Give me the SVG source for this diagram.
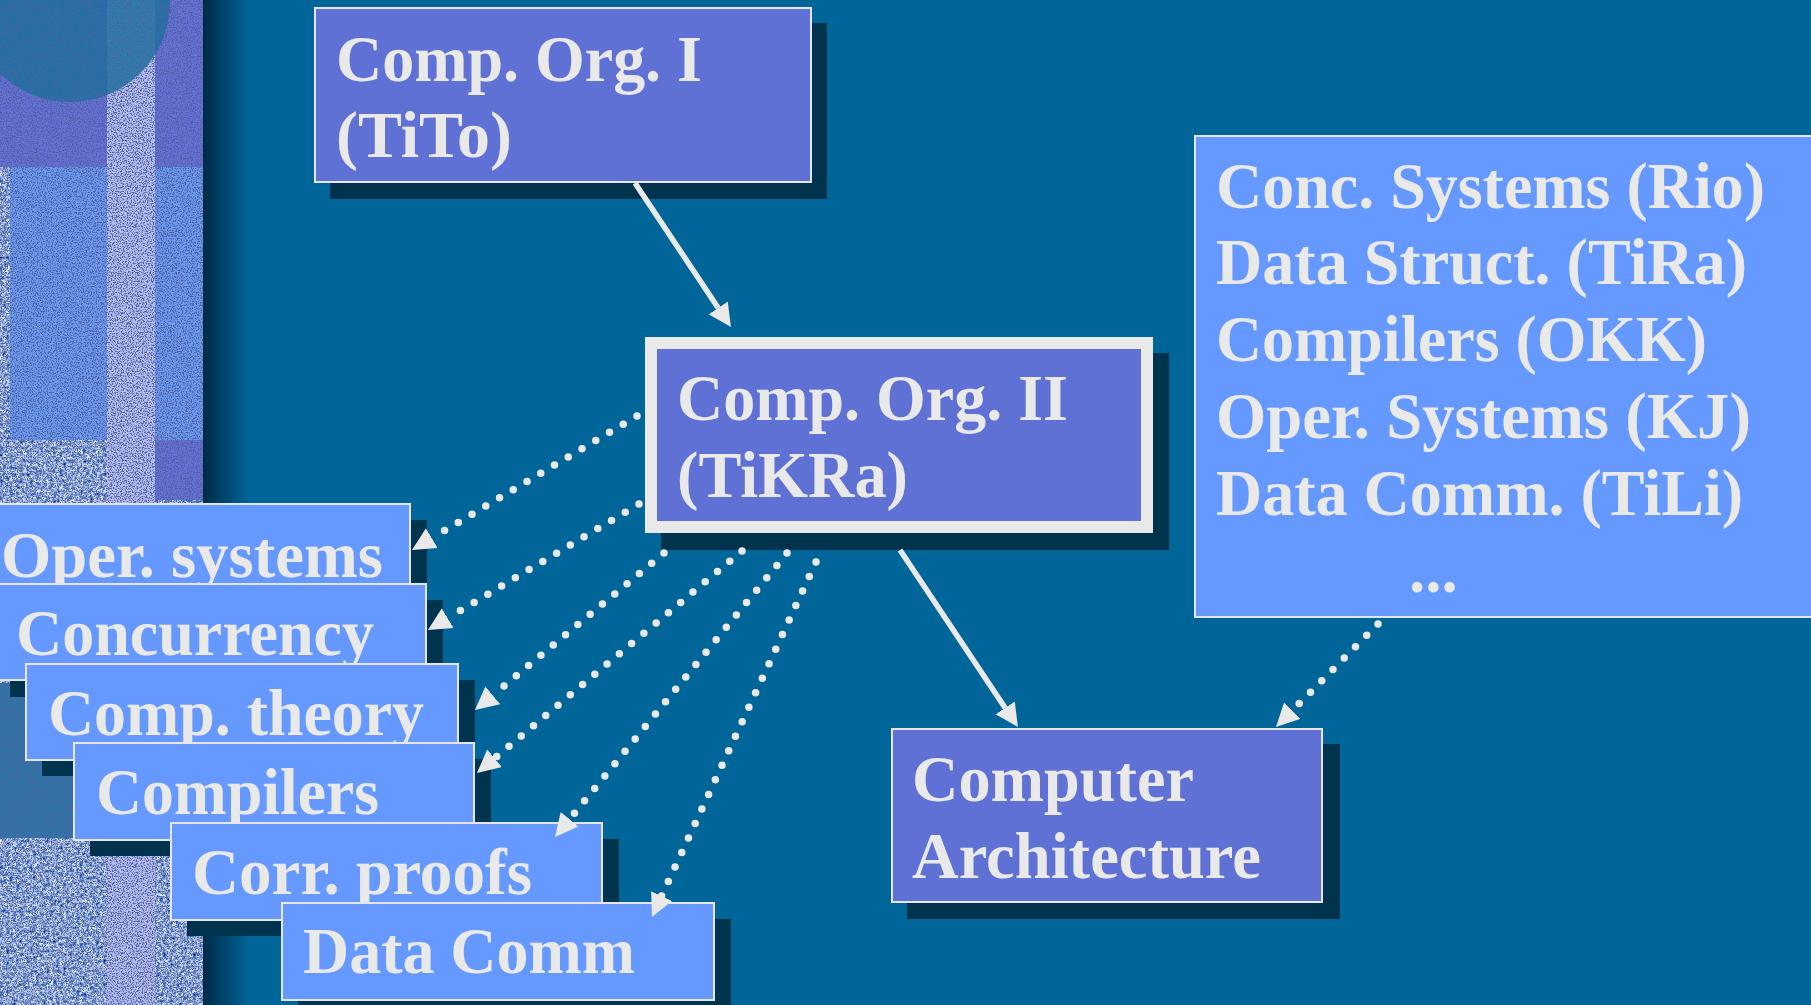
<svg xmlns="http://www.w3.org/2000/svg" width="1811" height="1005" viewBox="0 0 1811 1005">
<defs>
<style>
.shadow{fill:#00334d}
.nodeA{fill:#6071d5;stroke:#e6e6ee;stroke-width:2}
.nodeB{fill:#6699ff;stroke:#e6e6e6;stroke-width:2}
.lbl{font-family:'Liberation Serif','Times New Roman',serif;font-weight:bold;font-size:65px;fill:#e9e9e9}
.dot{fill:none;stroke:#e9e9e9;stroke-width:7.5;stroke-linecap:round;stroke-dasharray:0 16}
.solid{fill:none;stroke:#e9e9e9;stroke-width:5.5}
</style>
<linearGradient id="edge" x1="203" y1="0" x2="250" y2="0" gradientUnits="userSpaceOnUse">
<stop offset="0" stop-color="#002a45"/>
<stop offset="1" stop-color="#006699"/>
</linearGradient>
<filter id="weave" x="0" y="0" width="1" height="1">
<feTurbulence type="fractalNoise" baseFrequency="0.3" numOctaves="2" seed="4"/>
<feColorMatrix type="matrix" values="1.6 0 0 0 -0.42  1.6 0 0 0 -0.3  1.4 0 0 0 0.1  0 0 0 0 1"/>
</filter>
<filter id="speck" x="0" y="0" width="1" height="1">
<feTurbulence type="fractalNoise" baseFrequency="0.8" numOctaves="2" seed="7"/>
<feColorMatrix type="matrix" values="0 0 0 0 0.08  0 0 0 0 0.12  0 0 0 0 0.35  5.5 0 0 0 -2.55"/>
</filter>
<marker id="head" markerUnits="userSpaceOnUse" markerWidth="24" markerHeight="24" viewBox="0 -12 24 24" refX="0" refY="0" orient="auto">
<path d="M0,-11.5 L23,0 L0,11.5 Z" fill="#e9e9e9"/>
</marker>
</defs>

<rect x="0" y="0" width="1811" height="1005" fill="#006699"/>

<g id="left-panel">
<rect x="0" y="0" width="203" height="1005" fill="#5272b8"/>
<rect x="0" y="440" width="203" height="565" filter="url(#weave)"/>
<rect x="0" y="167" width="10" height="273" filter="url(#weave)"/>
<rect x="0" y="0" width="203" height="167" fill="#6670d8"/>
<rect x="10" y="167" width="193" height="273" fill="#6a9af2"/>
<rect x="155" y="440" width="48" height="60" fill="#6670d8"/>
<rect x="0" y="683" width="75" height="155" fill="#2a78a8"/>
<rect x="107" y="0" width="48" height="1005" fill="#b4bcf2"/>
<circle cx="70" cy="2" r="100" fill="#0a739c" fill-opacity="0.82"/>
<rect x="0" y="0" width="203" height="1005" filter="url(#speck)"/>
<rect x="203" y="0" width="47" height="1005" fill="url(#edge)"/>
</g>

<g id="node-oper">
<rect class="shadow" x="-5" y="520" width="432" height="96"/>
<rect class="nodeB" x="-21" y="504" width="431" height="96"/>
<text class="lbl" x="1" y="577" textLength="382" lengthAdjust="spacingAndGlyphs">Oper. systems</text>
</g>
<g id="node-concurrency">
<rect class="shadow" x="10" y="600" width="433" height="97"/>
<rect class="nodeB" x="-6" y="584" width="432" height="96"/>
<text class="lbl" x="16" y="655" textLength="358" lengthAdjust="spacingAndGlyphs">Concurrency</text>
</g>
<g id="node-comptheory">
<rect class="shadow" x="42" y="680" width="433" height="96"/>
<rect class="nodeB" x="26" y="664" width="432" height="96"/>
<text class="lbl" x="48" y="735" textLength="376" lengthAdjust="spacingAndGlyphs">Comp. theory</text>
</g>
<g id="node-compilers">
<rect class="shadow" x="90" y="759" width="401" height="97"/>
<rect class="nodeB" x="74" y="743" width="400" height="97"/>
<text class="lbl" x="96" y="814" textLength="283" lengthAdjust="spacingAndGlyphs">Compilers</text>
</g>
<g id="node-corr">
<rect class="shadow" x="187" y="839" width="432" height="97"/>
<rect class="nodeB" x="171" y="823" width="431" height="97"/>
<text class="lbl" x="192" y="894" textLength="340" lengthAdjust="spacingAndGlyphs">Corr. proofs</text>
</g>
<g id="node-datacomm">
<rect class="shadow" x="298" y="919" width="433" height="97"/>
<rect class="nodeB" x="282" y="903" width="432" height="97"/>
<text class="lbl" x="303" y="973" textLength="332" lengthAdjust="spacingAndGlyphs">Data Comm</text>
</g>

<g id="node-org1">
<rect class="shadow" x="330" y="23" width="497" height="176"/>
<rect class="nodeA" x="315" y="8" width="496" height="174"/>
<text class="lbl" x="336" y="81" textLength="366" lengthAdjust="spacingAndGlyphs">Comp. Org. I</text>
<text class="lbl" x="336" y="157" textLength="176" lengthAdjust="spacingAndGlyphs">(TiTo)</text>
</g>

<g id="node-org2">
<rect class="shadow" x="661" y="353" width="508" height="197"/>
<rect x="651" y="343" width="496" height="184" fill="#6071d5" stroke="#e9e9e9" stroke-width="12"/>
<text class="lbl" x="677" y="420" textLength="391" lengthAdjust="spacingAndGlyphs">Comp. Org. II</text>
<text class="lbl" x="677" y="497" textLength="231" lengthAdjust="spacingAndGlyphs">(TiKRa)</text>
</g>

<g id="node-arch">
<rect class="shadow" x="907" y="744" width="433" height="175"/>
<rect class="nodeA" x="892" y="729" width="430" height="173"/>
<text class="lbl" x="912" y="801" textLength="282" lengthAdjust="spacingAndGlyphs">Computer</text>
<text class="lbl" x="912" y="878" textLength="349" lengthAdjust="spacingAndGlyphs">Architecture</text>
</g>

<g id="node-courses">
<rect class="nodeB" x="1195" y="136" width="640" height="481"/>
<text class="lbl" x="1216" y="208" textLength="549" lengthAdjust="spacingAndGlyphs">Conc. Systems (Rio)</text>
<text class="lbl" x="1216" y="284" textLength="531" lengthAdjust="spacingAndGlyphs">Data Struct. (TiRa)</text>
<text class="lbl" x="1216" y="361" textLength="491" lengthAdjust="spacingAndGlyphs">Compilers (OKK)</text>
<text class="lbl" x="1216" y="438" textLength="535" lengthAdjust="spacingAndGlyphs">Oper. Systems (KJ)</text>
<text class="lbl" x="1216" y="515" textLength="527" lengthAdjust="spacingAndGlyphs">Data Comm. (TiLi)</text>
<text class="lbl" x="1409" y="592">...</text>
</g>

<g id="connectors">
<path class="solid" d="M635,183 L718.2,307.9" marker-end="url(#head)"/>
<path class="solid" d="M900,550 L1005.2,707.9" marker-end="url(#head)"/>
<path class="dot" d="M1378,624 L1292.2,710.7" marker-end="url(#head)"/>
<path class="dot" d="M637,416 L431.8,538.2" marker-end="url(#head)"/>
<path class="dot" d="M639,504 L447.7,618.2" marker-end="url(#head)"/>
<path class="dot" d="M664,553 L492.7,695.3" marker-end="url(#head)"/>
<path class="dot" d="M742,551 L494.6,758.3" marker-end="url(#head)"/>
<path class="dot" d="M787,553 L569.6,819.2" marker-end="url(#head)"/>
<path class="dot" d="M816,562 L661.6,896.1" marker-end="url(#head)"/>
</g>
</svg>
